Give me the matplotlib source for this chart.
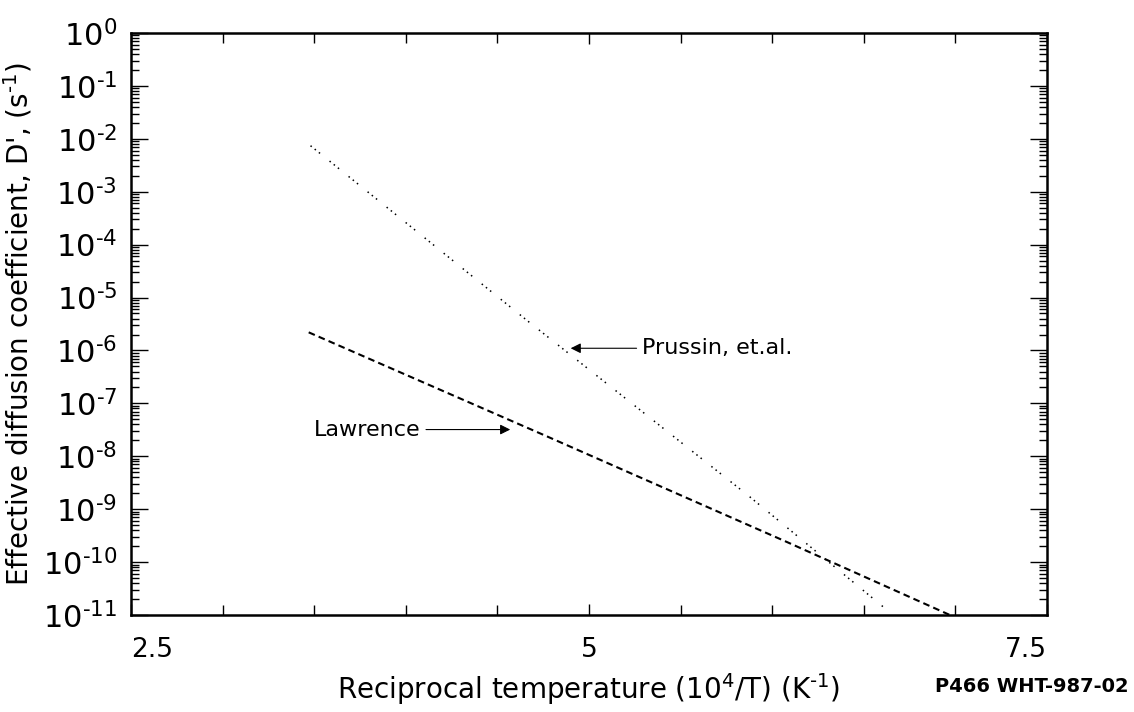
import numpy as np
import matplotlib
matplotlib.use("Agg")
import matplotlib.pyplot as plt
from matplotlib.ticker import LogLocator, NullFormatter, FixedLocator

plt.rcParams['font.family'] = ['DejaVu Sans']
plt.rcParams['mathtext.fontset'] = 'dejavusans'

# values (1/T in 10^4/K, D' in 1/s)
lawrence_x = [3.47, 4.78, 6.08, 6.97]
lawrence_y = [2.2e-6, 2.3e-8, 2.4e-10, 1.0e-11]

prussin_x = [3.48, 4.67, 5.87, 6.62]
prussin_y = [7.4e-3, 3.5e-6, 1.8e-9, 1.3e-11]

x_major = [2.5, 5, 7.5]
x_major_labels = ['2.5', '5', '7.5']
x_minor = [3.0, 3.5, 4.0, 4.5, 5.5, 6.0, 6.5, 7.0]
y_decades = list(range(0, -12, -1))

fig = plt.figure(figsize=(11.34, 7.12), dpi=100)
ax = fig.add_axes([0.1155, 0.1362, 0.8078, 0.8175])

ax.plot(lawrence_x, lawrence_y, color='black', lw=1.5,
        linestyle=(0, (3.2, 2.0)))
ax.plot(prussin_x, prussin_y, color='black', lw=1.1,
        linestyle=(0, (1, 2.5, 1, 2.5, 1, 8)))

ax.set_yscale('log')
ax.set_xlim(2.5, 7.5)
ax.set_ylim(1e-11, 1e0)

# ticks
ax.xaxis.set_major_locator(FixedLocator(x_major))
ax.xaxis.set_minor_locator(FixedLocator(x_minor))
ax.set_xticklabels(x_major_labels)
ax.set_yticks([10.0 ** d for d in y_decades])
ylabels = []
for d in y_decades:
    if d == 0:
        ylabels.append(r'$10^{0}$')
    else:
        ylabels.append(r'$10^{\text{-}%d}$' % (-d))
ax.set_yticklabels(ylabels)
ax.yaxis.set_minor_locator(LogLocator(base=10, subs=np.arange(2, 10), numticks=30))
ax.yaxis.set_minor_formatter(NullFormatter())

ax.tick_params(axis='both', which='both', direction='in', top=True, right=True,
               width=1.0, color='black')
ax.tick_params(axis='x', which='major', length=8, labelsize=19, pad=16)
ax.tick_params(axis='x', which='minor', length=7)
ax.tick_params(axis='y', which='major', length=12, labelsize=22, pad=10)
ax.tick_params(axis='y', which='minor', length=6)

xl = ax.get_xticklabels()
xl[0].set_ha('left')
xl[-1].set_ha('right')

for s in ax.spines.values():
    s.set_linewidth(1.8)

ax.set_xlabel(r'Reciprocal temperature (10$^4$/T) (K$^{\text{-}1}$)', fontsize=20, labelpad=6)
ax.set_ylabel(r"Effective diffusion coefficient, D', (s$^{\text{-}1}$)", fontsize=20, labelpad=6)

arrow = dict(arrowstyle='-|>', color='black', lw=0.8, mutation_scale=15,
             shrinkA=2, shrinkB=0)
ax.annotate('Prussin, et.al.', xy=(4.9, 1.1e-6), xytext=(5.29, 1.1e-6),
            fontsize=16, va='center', ha='left', arrowprops=arrow)
ax.annotate('Lawrence', xy=(4.57, 3.2e-8), xytext=(4.08, 3.2e-8),
            fontsize=16, va='center', ha='right', arrowprops=arrow)

fig.text(0.995, 0.022, 'P466 WHT-987-02', fontsize=14, fontweight='bold',
         ha='right', va='bottom')

fig.savefig('out.png', dpi=100)
